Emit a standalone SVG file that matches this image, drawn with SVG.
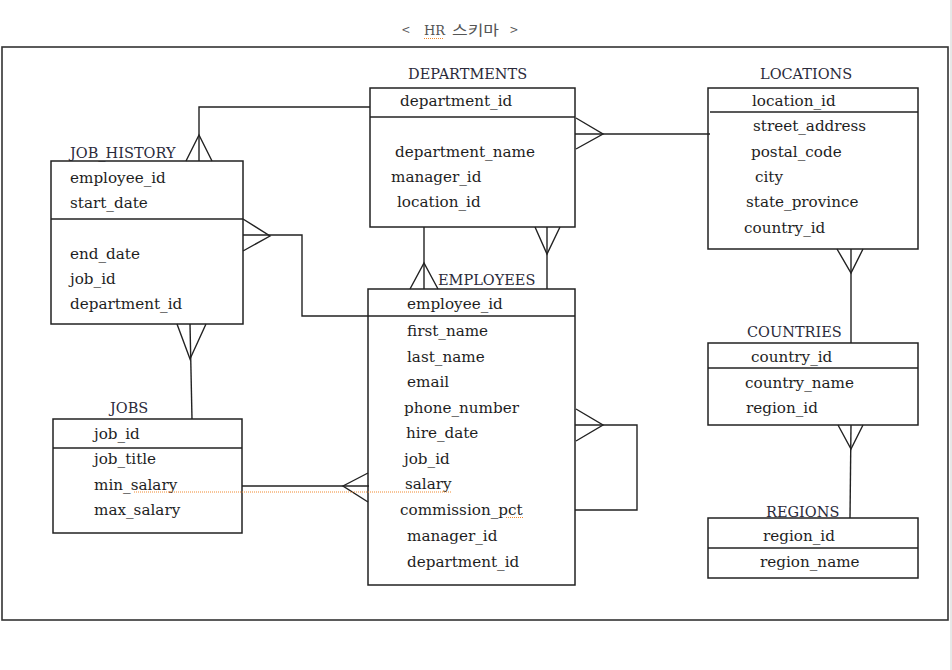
<svg xmlns="http://www.w3.org/2000/svg" width="952" height="670" viewBox="0 0 952 670">
<style>
.bg{fill:#fff}
.frame{fill:none;stroke:#333;stroke-width:1.6}
.box{fill:none;stroke:#222;stroke-width:1.5}
.div{stroke:#222;stroke-width:1.5}
.ln{fill:none;stroke:#222;stroke-width:1.4}
.t{font-family:"DejaVu Serif","Liberation Serif",serif;font-size:15.2px;fill:#1e1e1e}
.lbl{font-family:"DejaVu Serif","Liberation Serif",serif;font-size:14.5px;fill:#2a2a3a}
.title{font-family:"Noto Sans CJK KR","DejaVu Sans",sans-serif;font-size:14px;fill:#555}
.spell{fill:none;stroke:#f08a30;stroke-width:1;stroke-dasharray:1 1}
</style>
<rect class="bg" x="0" y="0" width="952" height="670"/>
<line x1="951" y1="0" x2="951" y2="670" stroke="#d0d0d0" stroke-width="1"/>
<text class="title" y="35"><tspan x="402">&lt;</tspan><tspan x="424" font-family="DejaVu Serif, serif" font-size="13">HR</tspan><tspan x="452" textLength="47" lengthAdjust="spacingAndGlyphs">스키마</tspan><tspan x="510">&gt;</tspan></text>
<line class="spell" x1="424" y1="38.5" x2="443" y2="38.5"/>
<rect class="frame" x="2" y="47" width="946" height="573"/>

<g id="connectors">
  <line class="ln" x1="575" y1="134" x2="710" y2="134"/>
  <polyline class="ln" points="576,118 603,134 576,149"/>
  <polyline class="ln" points="370,107 199,107 199,161"/>
  <polyline class="ln" points="186,161 199,135 212,161"/>
  <polyline class="ln" points="243,235 302,235 302,316 368,316"/>
  <polyline class="ln" points="243,219 270,236 243,251"/>
  <line class="ln" x1="424" y1="227" x2="424" y2="289"/>
  <polyline class="ln" points="410,289 424,263 438,289"/>
  <line class="ln" x1="547" y1="227" x2="547" y2="289"/>
  <polyline class="ln" points="535,227 547,254 560,227"/>
  <polyline class="ln" points="575,425 637,425 637,510 575,510"/>
  <polyline class="ln" points="576,409 603,425 576,441"/>
  <line class="ln" x1="190" y1="324" x2="192" y2="419"/>
  <polyline class="ln" points="177,324 190,359 206,324"/>
  <line class="ln" x1="242" y1="486" x2="369" y2="486"/>
  <polyline class="ln" points="368,473 343,486 368,502"/>
  <line class="ln" x1="851" y1="249" x2="851" y2="343"/>
  <polyline class="ln" points="837,249 851,273 863,249"/>
  <line class="ln" x1="851" y1="425" x2="850" y2="518"/>
  <polyline class="ln" points="838,425 851,449 863,425"/>
</g>

<g id="departments">
  <text class="lbl" x="408" y="79">DEPARTMENTS</text>
  <rect class="box" x="370" y="88" width="205" height="139"/>
  <line class="div" x1="370" y1="117" x2="575" y2="117"/>
  <text class="t" x="400" y="106">department_id</text>
  <text class="t" x="395" y="157">department_name</text>
  <text class="t" x="391" y="182">manager_id</text>
  <text class="t" x="397" y="207">location_id</text>
</g>

<g id="locations">
  <text class="lbl" x="760" y="79">LOCATIONS</text>
  <rect class="box" x="708" y="88" width="210" height="161"/>
  <line class="div" x1="710" y1="112" x2="918" y2="112"/>
  <text class="t" x="752" y="106">location_id</text>
  <text class="t" x="753" y="131">street_address</text>
  <text class="t" x="751" y="157">postal_code</text>
  <text class="t" x="755" y="182">city</text>
  <text class="t" x="746" y="207">state_province</text>
  <text class="t" x="744" y="233">country_id</text>
</g>

<g id="job_history">
  <text class="lbl" x="70" y="158">JOB_HISTORY</text>
  <rect class="box" x="51" y="161" width="192" height="163"/>
  <line class="div" x1="51" y1="219" x2="243" y2="219"/>
  <text class="t" x="70" y="183">employee_id</text>
  <text class="t" x="70" y="208">start_date</text>
  <text class="t" x="70" y="259">end_date</text>
  <text class="t" x="70" y="284">job_id</text>
  <text class="t" x="70" y="309">department_id</text>
</g>

<g id="employees">
  <text class="lbl" x="438" y="285">EMPLOYEES</text>
  <rect class="box" x="368" y="289" width="207" height="296"/>
  <line class="div" x1="368" y1="316" x2="575" y2="316"/>
  <text class="t" x="407" y="309">employee_id</text>
  <text class="t" x="407" y="336">first_name</text>
  <text class="t" x="407" y="362">last_name</text>
  <text class="t" x="407" y="387">email</text>
  <text class="t" x="404" y="413">phone_number</text>
  <text class="t" x="406" y="438">hire_date</text>
  <text class="t" x="404" y="464">job_id</text>
  <text class="t" x="405" y="489">salary</text>
  <text class="t" x="400" y="515">commission_pct</text>
  <text class="t" x="407" y="541">manager_id</text>
  <text class="t" x="407" y="567">department_id</text>
</g>

<g id="jobs">
  <text class="lbl" x="110" y="413">JOBS</text>
  <rect class="box" x="53" y="419" width="189" height="114"/>
  <line class="div" x1="53" y1="448" x2="242" y2="448"/>
  <text class="t" x="94" y="439">job_id</text>
  <text class="t" x="94" y="464">job_title</text>
  <text class="t" x="94" y="490">min_salary</text>
  <text class="t" x="94" y="515">max_salary</text>
</g>

<g id="countries">
  <text class="lbl" x="747" y="337">COUNTRIES</text>
  <rect class="box" x="708" y="343" width="210" height="82"/>
  <line class="div" x1="708" y1="368" x2="918" y2="368"/>
  <text class="t" x="751" y="362">country_id</text>
  <text class="t" x="745" y="388">country_name</text>
  <text class="t" x="746" y="413">region_id</text>
</g>

<g id="regions">
  <text class="lbl" x="766" y="517">REGIONS</text>
  <rect class="box" x="708" y="518" width="210" height="60"/>
  <line class="div" x1="708" y1="548" x2="918" y2="548"/>
  <text class="t" x="763" y="541">region_id</text>
  <text class="t" x="760" y="567">region_name</text>
</g>

<line class="spell" x1="134" y1="492" x2="451" y2="492"/>
<line class="spell" x1="506" y1="517.5" x2="524" y2="517.5"/>
</svg>
